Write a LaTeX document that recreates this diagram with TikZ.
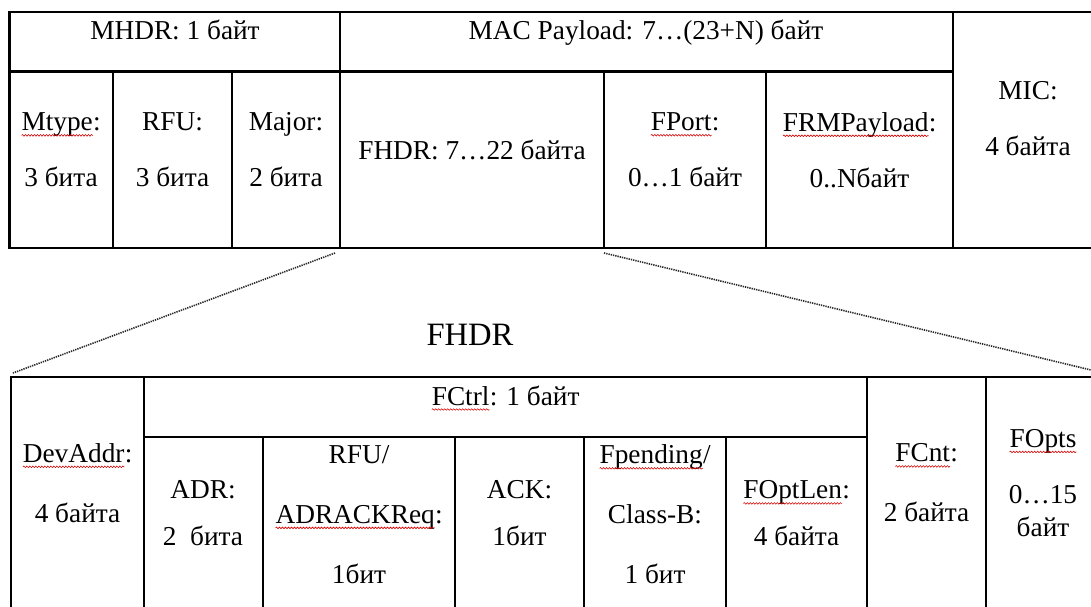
\documentclass[tikz,border=0pt]{standalone}
\usepackage{fontspec}
\setmainfont{Liberation Serif}
\usetikzlibrary{decorations.pathmorphing}
\newcommand\redsq[1]{\tikz[baseline=(w.base)]{\node[inner sep=0pt, outer sep=0pt] (w) {#1};
  \draw[red!85!black, line width=0.6pt, decorate, decoration={snake, amplitude=0.8pt, segment length=3pt}]
   ([yshift=-4.5pt]w.base west) -- ([yshift=-4.5pt]w.base east);}}
\begin{document}
\begin{tikzpicture}[x=1pt,y=-1pt,
  frame/.style={line width=2.3pt, line cap=rect},
  txt/.style={font=\fontsize{27.3}{56}\selectfont, align=center, inner sep=0pt},
  txtb/.style={font=\fontsize{27.3}{60}\selectfont, align=center, inner sep=0pt},
  txtc/.style={font=\fontsize{27.3}{47}\selectfont, align=center, inner sep=0pt},
  zoomline/.style={line width=1.6pt, dash pattern=on 1.3pt off 1.0pt, black!85}]
\path[use as bounding box] (0,0) rectangle (1091,607);
\fill[white] (0,0) rectangle (1091,607);
\clip (0,0) rectangle (1091,607);

% ---------- top table ----------
\draw[frame] (1110,12) -- (9.5,12) -- (9.5,248) -- (1110,248);
\draw[frame] (9.5,71.5) -- (953,71.5);
\draw[frame] (340,12) -- (340,248);
\draw[frame] (953,12) -- (953,248);
\foreach \x in {113,232,604,766} \draw[frame] (\x,71.5) -- (\x,248);

\node[txt, anchor=base] (mhdr)  at (175,39.5) {MHDR: 1 байт};
\node[txt, anchor=base] (macp)  at (646,39.5) {MAC Payload: 7…(23+N) байт};
\node[txt] (mtype) at (61,150)    {\redsq{Mtype}:\\3 бита};
\node[txt] (rfu)   at (172.5,150) {RFU:\\3 бита};
\node[txt] (major) at (286,150)   {Major:\\2 бита};
\node[txt] (fhdr)  at (472,150)   {FHDR: 7…22 байта};
\node[txt] (fport) at (685,150)   {\redsq{FPort}:\\0…1 байт};
\node[txt] (frm)   at (859.5,150) {\redsq{FRMPayload}:\\0..Nбайт};
\node[txt] (mic)   at (1028,118.5) {MIC:\\4 байта};

% ---------- zoom lines ----------
\coordinate (za) at (335,253);
\coordinate (zb) at (13,373);
\coordinate (zc) at (604,253);
\coordinate (zd) at (1091,370);
\draw[zoomline] (za) -- (zb);
\draw[zoomline] (zc) -- (zd);

\node[font=\fontsize{32.6}{36}\selectfont, inner sep=0pt] (lbl) at (470,335) {FHDR};

% ---------- bottom table ----------
\draw[frame] (1110,377) -- (11,377) -- (11,620);
\draw[frame] (144,437) -- (867,437);
\foreach \x in {144,867,986} \draw[frame] (\x,377) -- (\x,620);
\foreach \x in {263,455,584,726} \draw[frame] (\x,437) -- (\x,620);

\node[txt, anchor=base] (fctrl) at (505.5,405) {\redsq{FCtrl}: 1 байт};
\node[txtb] (dev)   at (77.5,483) {\redsq{DevAddr}:\\4 байта};
\node[txtc] (adr)   at (203,513.5)   {ADR:\\2~~бита};
\node[txtb] (rfub)  at (359,514.5) {RFU/\\\redsq{ADRACKReq}:\\1бит};
\node[txtc] (ack)   at (519.5,513.5) {ACK:\\1бит};
\node[txtb] (fpend) at (655,514.5)   {\redsq{Fpending}/\\Class-B:\\1 бит};
\node[txtc] (fopt)  at (796.5,513.5) {\redsq{FOptLen}:\\4 байта};
\node[txtb] (fcnt)  at (926.5,483) {\redsq{FCnt}:\\2 байта};
\node[txt]  (fopts) at (1043,483)  {\redsq{FOpts}\\0…15\\[-23pt]байт};
\end{tikzpicture}
\end{document}
